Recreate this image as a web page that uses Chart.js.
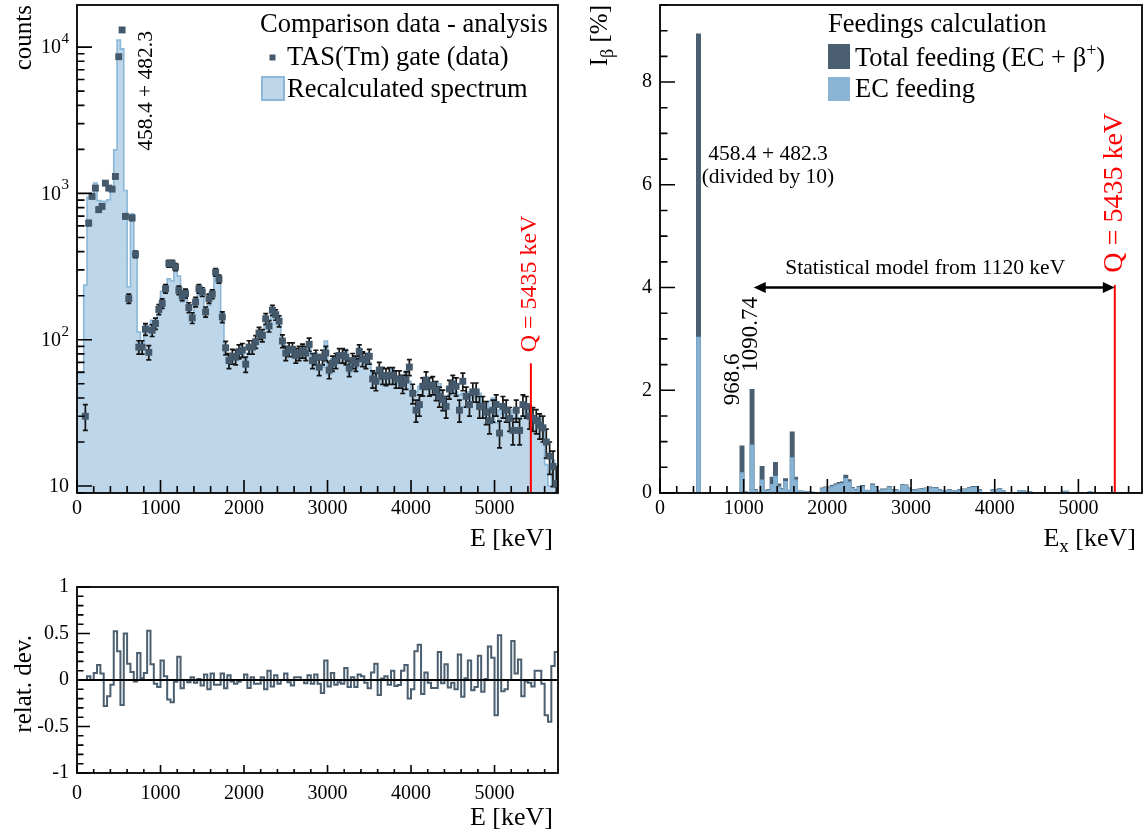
<!DOCTYPE html>
<html><head><meta charset="utf-8">
<script src="https://cdn.jsdelivr.net/npm/chart.js@4.4.1/dist/chart.umd.min.js"></script>
<style>
html,body{margin:0;padding:0;background:#fff;}
body{width:1144px;height:830px;position:relative;overflow:hidden;}
canvas{position:absolute;}
</style></head><body>
<canvas id="spec" width="575" height="558" style="left:0px;top:0px;width:575px;height:558px"></canvas>
<canvas id="dev" width="575" height="270" style="left:0px;top:560px;width:575px;height:270px"></canvas>
<canvas id="feed" width="569" height="558" style="left:575px;top:0px;width:569px;height:558px"></canvas>
<script>
// ---------------- DATA ----------------
const BIN_WIDTH = 40;          // keV per bin
const X_MAX = 5760;            // keV
const Q_VALUE = 5435;          // keV
const STAT_FROM = 1120;        // keV

// TAS(Tm) gate (data), counts per 40 keV bin (null = no point)
const tasCounts = [null,null,30,627,955,1087,774,815,1175,1087,
 1070,1306,8600,13100,697,191,680,384,89,89,
 118,82,116,129,161,177,223,331,331,314,
 218,199,207,166,141,181,223,212,155,191,
 205,289,260,143,88,72,77,76,83,85,
 68,89,89,97,111,107,139,124,159,148,
 134,98,81,86,86,78,81,84,81,93,
 72,76,65,76,81,62,69,72,78,78,
 76,64,72,69,83,74,72,77,54,52,
 62,57,56,57,57,54,54,50,53,65,
 43,33,36,48,53,48,49,45,41,39,
 35,46,50,48,33,52,41,36,44,44,
 35,35,32,28,33,36,23,35,33,29,
 24,33,24,36,35,30,29,28,26,25,
 20,16,13.6,10.4];
const tasErrors = [0,0,6,25,31,33,28,29,34,33,
 33,36,93,114,26,14,26,20,9.4,9.4,
 10.9,9.1,10.8,11.4,12.7,13.3,14.9,18.2,18.2,17.7,
 14.8,14.1,14.4,12.9,11.9,13.5,14.9,14.6,12.4,13.8,
 14.3,17,16.1,12,9.4,8.5,8.8,8.7,9.1,9.2,
 8.2,9.4,9.4,9.8,10.5,10.3,11.8,11.1,12.6,12.2,
 11.6,9.9,9,9.3,9.3,8.8,9,9.2,9,9.6,
 8.5,8.7,8.1,8.7,9,7.9,8.3,8.5,8.8,8.8,
 8.7,8,8.5,8.3,9.1,8.6,8.5,8.8,7.3,7.2,
 7.9,7.5,7.5,7.5,7.5,7.3,7.3,7.1,7.3,8.1,
 6.6,5.7,6,6.9,7.3,6.9,7,6.7,6.4,6.2,
 5.9,6.8,7.1,6.9,5.7,7.2,6.4,6,6.6,6.6,
 5.9,5.9,5.7,5.3,5.7,6,4.8,5.9,5.7,5.4,
 4.9,5.7,4.9,6,5.9,5.5,5.4,5.3,5.1,5,
 4.5,4,3.7,3.2];
// Recalculated spectrum, counts per bin
const recalcCounts = [59,59,236,944,968,1175,895,882,882,906,
 1047,1987,11190,9730,1047,230,726,400,113,95,
 127,125,136,124,149,214,232,261,252,308,
 272,181,207,162,145,176,225,199,164,172,
 219,275,247,153,80,76,76,73,81,85,
 72,81,92,93,107,110,125,136,148,155,
 129,98,87,84,81,80,83,84,80,97,
 69,81,62,65,98,58,74,68,76,75,
 86,59,74,64,88,77,70,70,58,61,
 52,58,58,54,63,50,51,55,61,52,
 45,44,48,50,50,46,46,47,50,40,
 41,42,47,44,42,43,42,44,40,41,
 43,33,33,38,40,27,33,31,30,29,
 33,34,29,30,34,29,27,30,29,24,
 14,10,15,13];
// relative deviation per bin
const relatDev = [0,0,0,0.04,0,0.075,0.16,0.07,-0.28,-0.175,
 -0.05,0.525,0.31,-0.27,0.5,0.175,0.085,-0.015,0.29,0.02,
 0.075,0.53,0.17,-0.04,-0.075,0.21,0.04,-0.21,-0.24,-0.02,
 0.25,-0.09,0,-0.025,0.03,-0.03,0.01,-0.06,0.06,-0.1,
 0.07,-0.05,-0.05,0.07,-0.09,0.05,-0.015,-0.04,-0.02,0,
 0.06,-0.085,0.03,-0.04,-0.04,0.03,-0.1,0.1,-0.07,0.05,
 -0.04,0,0.07,-0.025,-0.06,0.03,0.03,0,-0.035,0.05,
 -0.04,0.06,-0.04,-0.14,0.21,-0.07,0.075,-0.05,-0.025,-0.04,
 0.13,-0.075,0.03,-0.075,0.06,0.04,-0.03,-0.09,0.08,0.175,
 -0.16,0.015,0.04,-0.05,0.1,-0.065,-0.055,0.1,0.16,-0.2,
 -0.1,0.31,0.38,-0.15,0.08,-0.03,-0.085,-0.085,0.3,-0.035,
 0.17,-0.08,-0.03,-0.1,0.275,-0.18,0.02,0.21,-0.11,-0.075,
 0.26,-0.125,0.01,0.36,0.24,-0.38,0.48,-0.12,-0.1,0,
 0.42,0.07,0.22,-0.175,-0.015,-0.03,-0.07,0.1,0.1,-0.04,
 -0.38,-0.45,0.15,0.3];
// Feedings (%), per 40 keV bin
const totalFeeding = [0,0,0,0,0,0,0,0,0,0,
 0,8.93,0,0,0,0,0,0,0,0,
 0,0,0,0,0.91,0.02,0,2.01,0.06,0.01,
 0.51,0.05,0.06,0.30,0.59,0.17,0.08,0.27,0.05,1.18,
 0.30,0.04,0.03,0.02,0.02,0.01,0,0,0.09,0.11,
 0.11,0.14,0.17,0.20,0.21,0.34,0.25,0.10,0.06,0.12,
 0.14,0.05,0.045,0.17,0.12,0.045,0.07,0.07,0.12,0.06,
 0.06,0.03,0.155,0.15,0.09,0.06,0.06,0.07,0.08,0.09,
 0.11,0.10,0.10,0.06,0.045,0.045,0.06,0.045,0.045,0.06,
 0.07,0.07,0.10,0.12,0.12,0.06,0,0,0,0.06,
 0.06,0.08,0.045,0,0,0,0,0.045,0.045,0.02,
 0.02,0,0,0,0,0,0,0,0,0,
 0.03,0.03,0,0,0,0,0,0,0.02,0,
 0,0,0,0,0,0,0,0,0,0,
 0,0,0,0];
const ecFeeding = [0,0,0,0,0,0,0,0,0,0,
 0,3.03,0,0,0,0,0,0,0,0,
 0,0,0,0,0.39,0.02,0,0.93,0.05,0.01,
 0.25,0.04,0.05,0.16,0.32,0.12,0.07,0.22,0.04,0.68,
 0.25,0.04,0.03,0.02,0.02,0.01,0,0,0.08,0.10,
 0.10,0.12,0.15,0.17,0.18,0.28,0.21,0.09,0.05,0.11,
 0.12,0.045,0.04,0.15,0.11,0.04,0.06,0.06,0.11,0.055,
 0.055,0.03,0.14,0.14,0.08,0.055,0.055,0.065,0.075,0.085,
 0.10,0.095,0.095,0.055,0.04,0.04,0.055,0.04,0.04,0.055,
 0.065,0.065,0.095,0.11,0.11,0.055,0,0,0,0.055,
 0.055,0.075,0.04,0,0,0,0,0.04,0.04,0.02,
 0.02,0,0,0,0,0,0,0,0,0,
 0.03,0.03,0,0,0,0,0,0,0.02,0,
 0,0,0,0,0,0,0,0,0,0,
 0,0,0,0];

// tick values / labels
const energyTicks = [0,1000,2000,3000,4000,5000];
const energyTickLabels = ['0','1000','2000','3000','4000','5000'];
const countTicks = [10,100,1000,10000];
const countTickMantissa = ['10','10','10','10'];
const countTickExponent = ['','2','3','4'];
const devTicks = [-1,-0.5,0,0.5,1];
const devTickLabels = ['-1','-0.5','0','0.5','1'];
const feedTicks = [0,2,4,6,8];
const feedTickLabels = ['0','2','4','6','8'];

// ---------------- STYLE / HELPERS ----------------
const SERIF = '"Liberation Serif","Times New Roman",Times,serif';
Chart.defaults.font.family = SERIF;
Chart.defaults.color = '#000';
const C_HIST_FILL = '#bdd6e9', C_HIST_LINE = '#8bb7d8', C_DATA = '#44596b';
const C_TOTAL = '#4a5f71', C_EC = '#8ab4d3', C_DEV = '#4b5f70', C_RED = '#ff0000';
// Chart.js 'before' stepping holds each point's value until the next point (histogram bins)
const HIST_STEP = 'before';

const edgePoints = arr => { const p = arr.map((v,i)=>({x:i*BIN_WIDTH, y:v})); p.push({x:arr.length*BIN_WIDTH, y:arr[arr.length-1]}); return p; };
const centerPoints = arr => arr.map((v,i)=> v==null ? null : {x:i*BIN_WIDTH+BIN_WIDTH/2, y:v}).filter(p=>p);

function txt(ctx, s, x, y, size, o) {
  o = o || {};
  ctx.save(); ctx.font = size + 'px ' + SERIF; ctx.fillStyle = o.color || '#000';
  ctx.textAlign = o.align || 'left'; ctx.textBaseline = o.baseline || 'alphabetic';
  ctx.translate(x, y); if (o.rotate) ctx.rotate(o.rotate);
  ctx.fillText(s, 0, 0); ctx.restore();
}
function rich(ctx, segs, x, y, align, rotate) {
  ctx.save(); ctx.translate(x, y); if (rotate) ctx.rotate(rotate);
  ctx.textBaseline = 'alphabetic'; ctx.textAlign = 'left'; ctx.fillStyle = '#000';
  let total = 0;
  segs.forEach(s => { ctx.font = s.size + 'px ' + SERIF; s.w = ctx.measureText(s.t).width; total += s.w; });
  let cx = align === 'right' ? -total : (align === 'center' ? -total/2 : 0);
  segs.forEach(s => { ctx.font = s.size + 'px ' + SERIF; ctx.fillText(s.t, cx, s.dy || 0); cx += s.w; });
  ctx.restore();
}
function frame(ctx, a) {
  ctx.save(); ctx.strokeStyle = '#000'; ctx.lineWidth = 1.8;
  ctx.strokeRect(a.left, a.top, a.right - a.left, a.bottom - a.top); ctx.restore();
}
function xTicks(ctx, sc, a, minor, major, lMaj, lMin) {
  ctx.save(); ctx.strokeStyle = '#000'; ctx.lineWidth = 1.6; ctx.beginPath();
  const n = Math.floor((sc.max - sc.min) / minor + 1e-6);
  for (let i = 0; i <= n; i++) {
    const v = sc.min + i * minor, px = sc.getPixelForValue(v);
    const isMaj = Math.abs(v / major - Math.round(v / major)) < 1e-6;
    ctx.moveTo(px, a.bottom); ctx.lineTo(px, a.bottom - (isMaj ? lMaj : lMin));
  }
  ctx.stroke(); ctx.restore();
}
function yTicksLin(ctx, sc, a, minor, major, lMaj, lMin) {
  ctx.save(); ctx.strokeStyle = '#000'; ctx.lineWidth = 1.6; ctx.beginPath();
  const n = Math.floor((sc.max - sc.min) / minor + 1e-6);
  for (let i = 0; i <= n; i++) {
    const v = sc.min + i * minor, py = sc.getPixelForValue(v);
    const isMaj = Math.abs(v / major - Math.round(v / major)) < 1e-6;
    ctx.moveTo(a.left, py); ctx.lineTo(a.left + (isMaj ? lMaj : lMin), py);
  }
  ctx.stroke(); ctx.restore();
}
function yTicksLog(ctx, sc, a, lMaj, lMin) {
  ctx.save(); ctx.strokeStyle = '#000'; ctx.lineWidth = 1.6; ctx.beginPath();
  for (let d = 1; d <= 100000; d *= 10) for (let m = 1; m <= 9; m++) {
    const v = m * d; if (v < sc.min || v > sc.max) continue;
    const py = sc.getPixelForValue(v);
    ctx.moveTo(a.left, py); ctx.lineTo(a.left + (m === 1 ? lMaj : lMin), py);
  }
  ctx.stroke(); ctx.restore();
}
function baseOpts(W, H, A) {
  return {
    responsive: false, animation: false, devicePixelRatio: 1, events: [],
    layout: { autoPadding: false, padding: { left: 0, top: A.top, right: W - A.right, bottom: 0 } },
    plugins: { legend: { display: false }, tooltip: { enabled: false }, title: { display: false } }
  };
}
function xAxis(H, A, pad) {
  return {
    type: 'linear', position: 'bottom', min: 0, max: X_MAX,
    grid: { display: false, drawTicks: false }, border: { display: false },
    ticks: { autoSkip: false, maxRotation: 0, minRotation: 0, padding: pad, font: { size: 20, family: SERIF }, color: '#000',
      callback: (v, i) => energyTickLabels[i] },
    afterBuildTicks: s => { s.ticks = energyTicks.map(v => ({ value: v })); },
    afterFit: s => { s.height = H - A.bottom; s.paddingLeft = s.paddingRight = s.paddingTop = s.paddingBottom = 0; }
  };
}
function yAxis(A, extra, tickVals, tickLabs, showLabels) {
  return Object.assign({
    position: 'left',
    grid: { display: false, drawTicks: false }, border: { display: false },
    ticks: { display: showLabels !== false, autoSkip: false, padding: 8, font: { size: 20, family: SERIF }, color: '#000',
      callback: (v, i) => tickLabs[i] },
    afterBuildTicks: s => { s.ticks = tickVals.map(v => ({ value: v })); },
    afterFit: s => { s.width = A.left; s.paddingLeft = s.paddingRight = s.paddingTop = s.paddingBottom = 0; }
  }, extra);
}

// ---------------- CHART 1 : spectrum ----------------
(function () {
  const W = 575, H = 558, A = { left: 77, top: 5, right: 558, bottom: 493 };
  const opts = baseOpts(W, H, A);
  opts.scales = {
    x: xAxis(H, A, 4),
    y: yAxis(A, { type: 'logarithmic', min: 8.96, max: 19400 }, countTicks, countTickMantissa, false)
  };
  const decor = {
    id: 'specDecor',
    beforeDatasetDraw(chart, args) {
      if (chart.data.datasets[args.index].label !== 'TAS(Tm) gate (data)') return;
      const { ctx, chartArea: a, scales: { x, y } } = chart;
      ctx.save(); ctx.beginPath(); ctx.rect(a.left, a.top, a.right - a.left, a.bottom - a.top); ctx.clip();
      ctx.strokeStyle = '#141414'; ctx.lineWidth = 1.7; ctx.beginPath();
      tasCounts.forEach((v, i) => {
        if (v == null || !tasErrors[i]) return;
        const px = x.getPixelForValue(i * BIN_WIDTH + BIN_WIDTH / 2);
        const y1 = y.getPixelForValue(v + tasErrors[i]), y2 = y.getPixelForValue(Math.max(v - tasErrors[i], 1));
        ctx.moveTo(px, y1); ctx.lineTo(px, y2);
        ctx.moveTo(px - 2.5, y1); ctx.lineTo(px + 2.5, y1);
        ctx.moveTo(px - 2.5, y2); ctx.lineTo(px + 2.5, y2);
      });
      ctx.stroke(); ctx.restore();
    },
    afterDatasetsDraw(chart) {
      const { ctx, chartArea: a, scales: { x, y } } = chart;
      const qx = x.getPixelForValue(Q_VALUE);
      ctx.save(); ctx.strokeStyle = C_RED; ctx.lineWidth = 2; ctx.beginPath();
      ctx.moveTo(qx, y.getPixelForValue(69)); ctx.lineTo(qx, a.bottom); ctx.stroke(); ctx.restore();
    },
    afterDraw(chart) {
      const { ctx, chartArea: a, scales: { x, y } } = chart;
      frame(ctx, a);
      xTicks(ctx, x, a, 200, 1000, 13, 7);
      yTicksLog(ctx, y, a, 15, 7.5);
      // log tick labels: mantissa + raised exponent
      countTicks.forEach((v, i) => {
        const py = y.getPixelForValue(v), rx = a.left - 8;
        ctx.save(); ctx.fillStyle = '#000'; ctx.textBaseline = 'middle'; ctx.textAlign = 'right';
        let ew = 0;
        if (countTickExponent[i]) {
          ctx.font = '15px ' + SERIF; ew = ctx.measureText(countTickExponent[i]).width;
          ctx.fillText(countTickExponent[i], rx, py - 8);
        }
        ctx.font = '20px ' + SERIF; ctx.fillText(countTickMantissa[i], rx - ew - (ew ? 0.5 : 0), py + 1);
        ctx.restore();
      });
      // axis titles
      txt(ctx, 'counts', 31, 5, 25, { align: 'right', rotate: -Math.PI / 2 });
      txt(ctx, 'E [keV]', 553, 546, 26, { align: 'right' });
      // legend
      txt(ctx, 'Comparison data - analysis', 260, 32, 26.5);
      ctx.save(); ctx.fillStyle = C_DATA; ctx.fillRect(269.5, 54.5, 6, 6); ctx.restore();
      txt(ctx, 'TAS(Tm) gate (data)', 287, 64.5, 26.5);
      ctx.save(); ctx.fillStyle = C_HIST_FILL; ctx.strokeStyle = C_HIST_LINE; ctx.lineWidth = 2;
      ctx.fillRect(262, 77, 22, 23); ctx.strokeRect(262, 77, 22, 23); ctx.restore();
      txt(ctx, 'Recalculated spectrum', 287, 97, 26.5);
      // annotations
      txt(ctx, '458.4 + 482.3', x.getPixelForValue(895), y.getPixelForValue(1960), 21.5, { rotate: -Math.PI / 2 });
      txt(ctx, 'Q = 5435 keV', x.getPixelForValue(5497), y.getPixelForValue(82), 24, { rotate: -Math.PI / 2, color: C_RED });
    }
  };
  new Chart(document.getElementById('spec'), {
    type: 'line',
    data: { datasets: [
      { label: 'TAS(Tm) gate (data)', data: centerPoints(tasCounts), showLine: false, pointStyle: 'rect',
        pointRadius: 4.9, pointBackgroundColor: C_DATA, pointBorderColor: C_DATA, pointBorderWidth: 0, order: 1 },
      { label: 'Recalculated spectrum', data: edgePoints(recalcCounts), stepped: HIST_STEP, fill: 'start',
        backgroundColor: C_HIST_FILL, borderColor: C_HIST_LINE, borderWidth: 1.6, pointRadius: 0, order: 2 }
    ] },
    options: opts, plugins: [decor]
  });
})();

// ---------------- CHART 2 : relative deviation ----------------
(function () {
  const W = 575, H = 270, A = { left: 77, top: 27, right: 558, bottom: 213 };
  const opts = baseOpts(W, H, A);
  opts.scales = {
    x: xAxis(H, A, 9),
    y: yAxis(A, { type: 'linear', min: -1, max: 1 }, devTicks, devTickLabels)
  };
  const decor = {
    id: 'devDecor',
    afterDatasetsDraw(chart) {
      const { ctx, chartArea: a, scales: { y } } = chart;
      const y0 = y.getPixelForValue(0);
      ctx.save(); ctx.strokeStyle = '#000'; ctx.lineWidth = 1.8; ctx.beginPath();
      ctx.moveTo(a.left, y0); ctx.lineTo(a.right, y0); ctx.stroke(); ctx.restore();
    },
    afterDraw(chart) {
      const { ctx, chartArea: a, scales: { x, y } } = chart;
      frame(ctx, a);
      xTicks(ctx, x, a, 200, 1000, 8, 4);
      yTicksLin(ctx, y, a, 0.1, 0.5, 13, 6.5);
      txt(ctx, 'relat. dev.', 31, 75, 25, { align: 'right', rotate: -Math.PI / 2 });
      txt(ctx, 'E [keV]', 553, 265, 26, { align: 'right' });
    }
  };
  new Chart(document.getElementById('dev'), {
    type: 'line',
    data: { datasets: [
      { label: 'relat. dev.', data: edgePoints(relatDev), stepped: HIST_STEP, fill: false,
        borderColor: C_DEV, borderWidth: 2, pointRadius: 0 }
    ] },
    options: opts, plugins: [decor]
  });
})();

// ---------------- CHART 3 : feedings ----------------
(function () {
  const W = 569, H = 558, A = { left: 85, top: 5, right: 567, bottom: 493 };
  const opts = baseOpts(W, H, A);
  opts.scales = {
    x: xAxis(H, A, 4),
    y: yAxis(A, { type: 'linear', min: 0, max: 9.5 }, feedTicks, feedTickLabels)
  };
  const decor = {
    id: 'feedDecor',
    afterDatasetsDraw(chart) {
      const { ctx, chartArea: a, scales: { x, y } } = chart;
      const qx = x.getPixelForValue(Q_VALUE);
      ctx.save(); ctx.strokeStyle = C_RED; ctx.lineWidth = 2; ctx.beginPath();
      ctx.moveTo(qx, y.getPixelForValue(4.05)); ctx.lineTo(qx, a.bottom); ctx.stroke(); ctx.restore();
      // double arrow
      const ay = y.getPixelForValue(4), x1 = x.getPixelForValue(STAT_FROM), x2 = x.getPixelForValue(Q_VALUE);
      ctx.save(); ctx.strokeStyle = '#000'; ctx.fillStyle = '#000'; ctx.lineWidth = 2.5;
      ctx.beginPath(); ctx.moveTo(x1 + 8, ay); ctx.lineTo(x2 - 8, ay); ctx.stroke();
      ctx.beginPath(); ctx.moveTo(x1, ay); ctx.lineTo(x1 + 12, ay - 5.5); ctx.lineTo(x1 + 12, ay + 5.5); ctx.closePath(); ctx.fill();
      ctx.beginPath(); ctx.moveTo(x2, ay); ctx.lineTo(x2 - 12, ay - 5.5); ctx.lineTo(x2 - 12, ay + 5.5); ctx.closePath(); ctx.fill();
      ctx.restore();
    },
    afterDraw(chart) {
      const { ctx, chartArea: a, scales: { x, y } } = chart;
      frame(ctx, a);
      xTicks(ctx, x, a, 200, 1000, 14, 7);
      yTicksLin(ctx, y, a, 0.5, 2, 15, 7.5);
      rich(ctx, [{ t: 'I', size: 25 }, { t: '\u03B2', size: 18, dy: 6 }, { t: ' [%]', size: 25 }], 32, 5, 'right', -Math.PI / 2);
      rich(ctx, [{ t: 'E', size: 26 }, { t: 'x', size: 19, dy: 6 }, { t: ' [keV]', size: 26 }], 561, 546, 'right', 0);
      // legend
      txt(ctx, 'Feedings calculation', 253, 32, 26.5);
      ctx.save(); ctx.fillStyle = C_TOTAL; ctx.fillRect(253, 44, 22, 25);
      ctx.fillStyle = C_EC; ctx.fillRect(253, 77, 22, 24); ctx.restore();
      rich(ctx, [{ t: 'Total feeding (EC + \u03B2', size: 26.5 }, { t: '+', size: 18, dy: -10 }, { t: ')', size: 26.5 }], 280, 65.5, 'left', 0);
      txt(ctx, 'EC feeding', 280, 97, 26.5);
      // annotations
      const cx = x.getPixelForValue(1290);
      txt(ctx, '458.4 + 482.3', cx, y.getPixelForValue(6.49), 21.5, { align: 'center' });
      txt(ctx, '(divided by 10)', cx, y.getPixelForValue(6.04), 21.5, { align: 'center' });
      txt(ctx, '968.6', x.getPixelForValue(945), y.getPixelForValue(1.71), 23, { rotate: -Math.PI / 2 });
      txt(ctx, '1090.74', x.getPixelForValue(1160), y.getPixelForValue(2.36), 23, { rotate: -Math.PI / 2 });
      txt(ctx, 'Statistical model from 1120 keV', x.getPixelForValue(3170), y.getPixelForValue(4.27), 21.5, { align: 'center' });
      txt(ctx, 'Q = 5435 keV', x.getPixelForValue(5526), y.getPixelForValue(4.29), 28, { rotate: -Math.PI / 2, color: C_RED });
    }
  };
  new Chart(document.getElementById('feed'), {
    type: 'line',
    data: { datasets: [
      { label: 'EC feeding', data: edgePoints(ecFeeding), stepped: HIST_STEP, fill: 'start',
        backgroundColor: C_EC, borderColor: '#80aed0', borderWidth: 1.4, pointRadius: 0, order: 1 },
      { label: 'Total feeding (EC + \u03B2+)', data: edgePoints(totalFeeding), stepped: HIST_STEP, fill: 'start',
        backgroundColor: C_TOTAL, borderColor: C_TOTAL, borderWidth: 1.6, pointRadius: 0, order: 2 }
    ] },
    options: opts, plugins: [decor]
  });
})();
</script>
</body></html>
